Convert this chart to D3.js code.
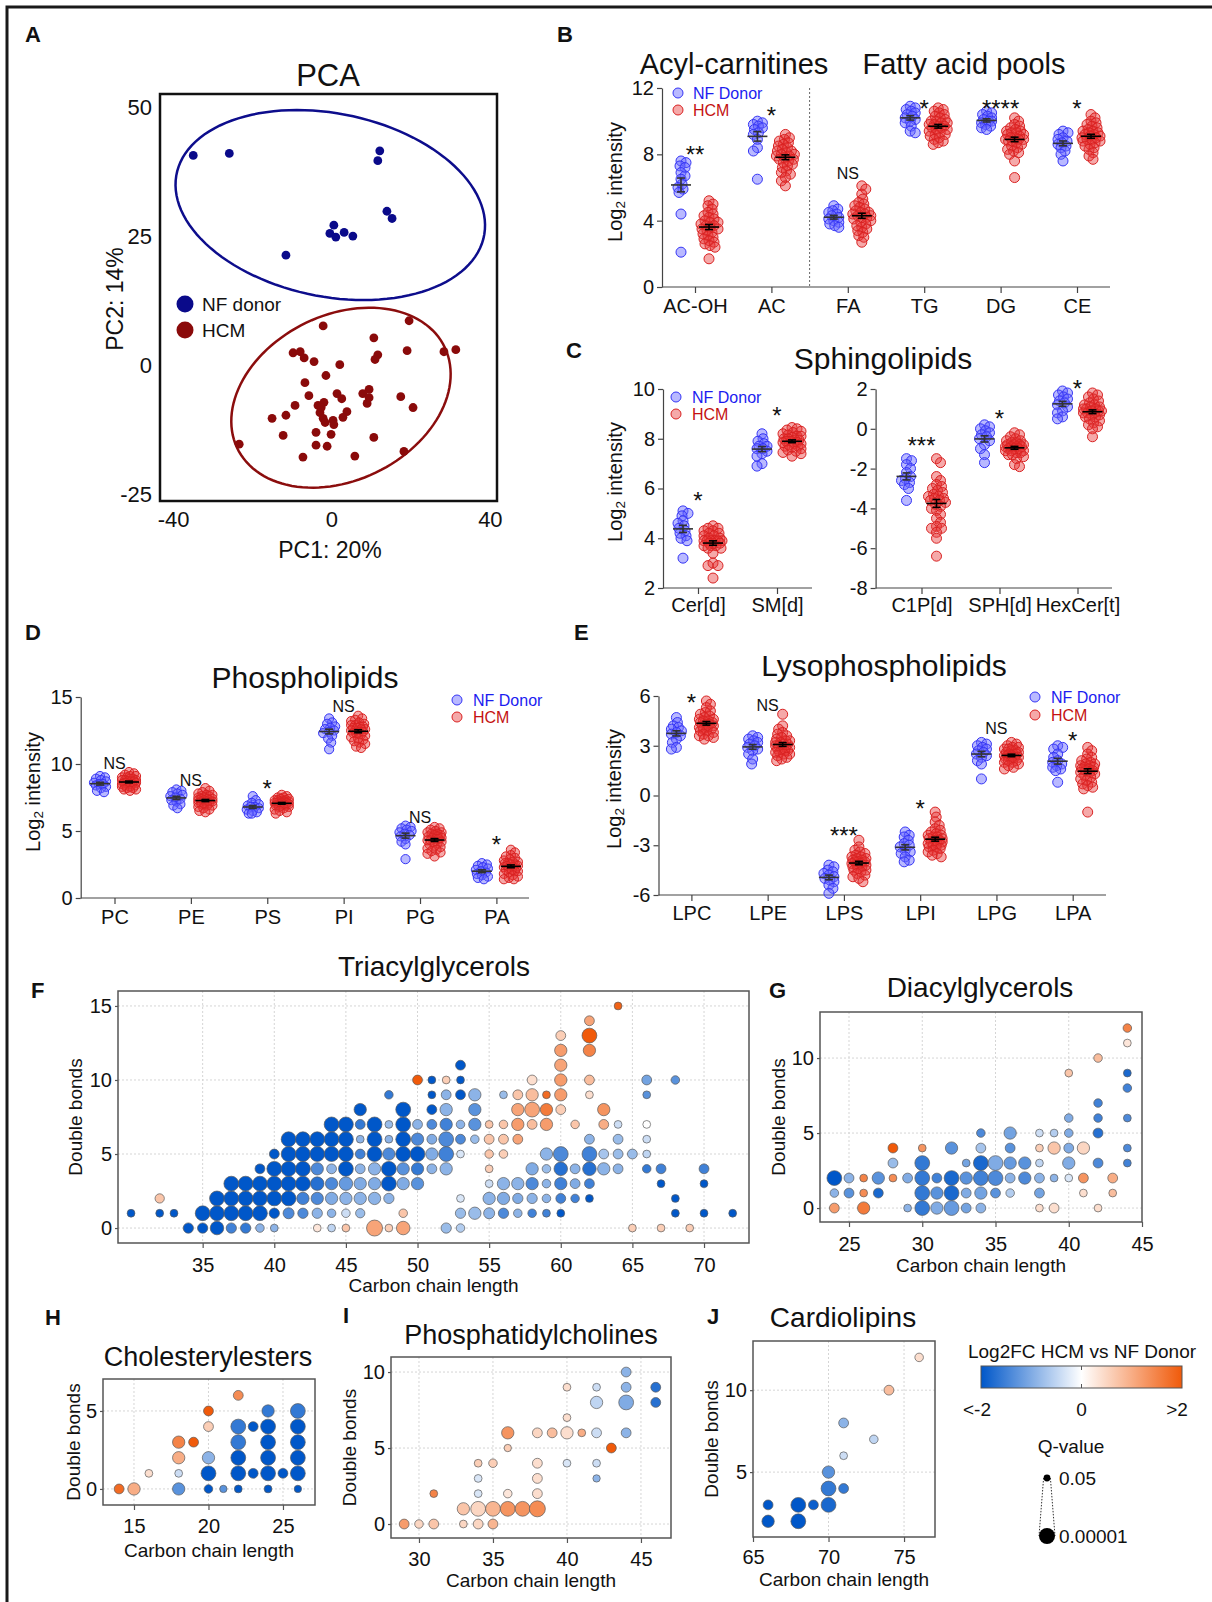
<!DOCTYPE html>
<html><head><meta charset="utf-8">
<script src="https://cdn.jsdelivr.net/npm/d3@7"></script>
<style>body{margin:0;background:#fff}</style>
</head><body>
<script>
// ================= DATA =================
// Panel A: PCA scores (PC1, PC2)
const pcaNF = [[-34.9,40.7],[-25.8,41.1],[12.2,41.6],[11.7,39.7],[14.0,29.9],[15.3,28.5],[0.6,27.2],[-0.4,25.6],[1.1,24.9],[3.2,25.8],[5.4,25.1],[-11.5,21.4]];
const pcaHCM = [[-2.1,7.7],[19.6,8.7],[10.7,5.4],[19.1,2.9],[28.4,2.7],[31.4,3.1],[-9.7,2.5],[-7.9,2.7],[-6.9,1.5],[-4.4,0.8],[2.1,0.2],[11.7,2.1],[11.0,1.2],[-1.4,-1.9],[-6.7,-3.3],[9.5,-4.6],[-5.7,-5.8],[1.4,-5.4],[2.6,-6.4],[7.9,-5.4],[9.0,-7.3],[9.5,-6.2],[17.5,-6.0],[20.6,-8.1],[-9.2,-7.7],[-3.4,-7.7],[-1.9,-7.1],[-2.9,-9.1],[3.9,-8.9],[2.9,-10.0],[-11.5,-9.6],[-15.0,-10.2],[-2.1,-10.2],[-1.6,-11.0],[0.4,-10.6],[0.6,-11.4],[-3.9,-12.9],[-0.1,-13.3],[-12.2,-13.5],[10.7,-13.9],[-23.3,-15.2],[-3.9,-15.4],[-1.1,-15.6],[-7.2,-17.7],[5.9,-17.5],[18.3,-16.6],[-2.6,-8.1]];
const nfEllipse = {c:[-0.3,31.1], u:[38.9,-5.65], v:[-3.75,-17.5]};
const hcmEllipse = {c:[2.4,-6.2], u:[26.7,8.86], v:[7.37,-15.0]};
const pcaXTicks = [-40,0,40];
const pcaYTicks = [-25,0,25,50];

// Panel B
const bCats = ["AC-OH","AC","FA","TG","DG","CE"];
const bNF = [
 [7.6,7.5,7.3,7.2,6.9,6.7,6.5,6.2,6.0,5.9,5.7,4.4,2.1],
 [10.0,9.9,9.8,9.7,9.6,9.5,9.3,9.2,8.9,8.4,8.2,6.5],
 [4.9,4.7,4.6,4.5,4.4,4.3,4.2,4.1,4.0,3.9,3.8,3.7,3.6],
 [10.9,10.8,10.7,10.6,10.5,10.4,10.3,10.2,10.1,10.0,9.9,9.7,9.4,9.3],
 [10.6,10.5,10.4,10.3,10.2,10.1,10.0,10.0,9.9,9.8,9.7,9.6,9.5],
 [9.4,9.3,9.2,9.0,8.9,8.8,8.7,8.6,8.5,8.4,8.2,8.0,7.6]];
const bHCM = [
 [5.2,5.0,4.9,4.7,4.5,4.4,4.3,4.2,4.1,4.0,3.9,3.9,3.8,3.7,3.7,3.6,3.5,3.5,3.4,3.3,3.2,3.1,3.0,2.9,2.8,2.7,2.6,2.5,2.4,1.7],
 [9.2,9.0,8.9,8.8,8.7,8.6,8.5,8.4,8.3,8.2,8.2,8.1,8.0,8.0,7.9,7.9,7.8,7.7,7.7,7.6,7.5,7.4,7.3,7.2,7.0,6.9,6.8,6.6,6.4,6.1],
 [6.1,5.9,5.6,5.3,5.1,5.0,4.9,4.8,4.7,4.6,4.5,4.5,4.4,4.4,4.3,4.3,4.2,4.2,4.1,4.0,3.9,3.8,3.7,3.6,3.5,3.4,3.3,3.1,3.0,2.7],
 [10.8,10.7,10.6,10.5,10.4,10.3,10.2,10.1,10.0,10.0,9.9,9.9,9.8,9.8,9.7,9.7,9.6,9.6,9.5,9.5,9.4,9.3,9.2,9.2,9.1,9.0,8.9,8.8,8.7,8.6],
 [10.2,10.0,9.8,9.7,9.6,9.5,9.4,9.4,9.3,9.3,9.2,9.2,9.1,9.0,9.0,8.9,8.9,8.8,8.8,8.7,8.6,8.5,8.4,8.3,8.2,8.1,8.0,8.9,7.6,6.6],
 [10.4,10.2,10.0,9.9,9.8,9.7,9.6,9.5,9.4,9.4,9.3,9.3,9.2,9.2,9.1,9.1,9.0,9.0,8.9,8.9,8.8,8.8,8.7,8.6,8.5,8.4,8.3,8.1,7.9,7.7]];
const bSig = ["**","*","NS","*","****","*"];
const bSigY = [8.3,10.7,6.9,11.1,11.1,11.1];
const bTicks = [0,4,8,12];

// Panel C (left: Cer, SM ; right: C1P, SPH, HexCer)
const cLCats = ["Cer[d]","SM[d]"];
const cLNF = [
 [5.1,5.0,4.9,4.7,4.6,4.5,4.4,4.3,4.2,4.1,4.0,3.9,3.2],
 [8.2,8.0,7.9,7.8,7.7,7.7,7.6,7.6,7.5,7.4,7.3,7.0,6.9]];
const cLHCM = [
 [4.5,4.4,4.4,4.3,4.3,4.2,4.2,4.1,4.1,4.0,4.0,3.9,3.9,3.9,3.8,3.8,3.7,3.7,3.6,3.6,3.9,3.9,3.4,3.9,3.8,3.7,3.0,2.9,2.9,2.4],
 [8.45,8.4,8.35,8.3,8.25,8.2,8.15,8.1,8.1,8.05,8.0,8.0,7.95,7.95,7.9,7.9,7.85,7.85,7.8,7.8,7.75,7.7,7.7,7.65,7.6,7.55,7.5,7.45,7.4,7.3]];
const cLSig = ["*","*"];
const cLSigY = [5.73,9.15];
const cLTicks = [2,4,6,8,10];
const cRCats = ["C1P[d]","SPH[d]","HexCer[t]"];
const cRNF = [
 [-1.5,-1.6,-1.8,-2.0,-2.2,-2.4,-2.5,-2.6,-2.7,-2.8,-3.0,-3.6],
 [0.2,0.1,0.0,-0.1,-0.2,-0.3,-0.4,-0.5,-0.6,-0.8,-1.0,-1.3,-1.7],
 [1.9,1.8,1.7,1.6,1.5,1.4,1.3,1.2,1.1,0.9,0.8,0.6,0.5]];
const cRHCM = [
 [-1.5,-1.7,-2.4,-2.6,-2.8,-2.9,-3.0,-3.1,-3.2,-3.3,-3.4,-3.4,-3.5,-3.5,-3.6,-3.6,-3.7,-3.8,-3.9,-4.0,-4.1,-4.3,-4.5,-4.7,-4.9,-5.0,-5.2,-5.5,-5.0,-6.4],
 [-0.2,-0.3,-0.4,-0.5,-0.6,-0.6,-0.7,-0.7,-0.8,-0.8,-0.8,-0.9,-0.9,-0.9,-1.0,-1.0,-1.0,-1.1,-1.1,-1.1,-1.2,-1.2,-1.3,-1.3,-1.4,-1.5,-0.9,-0.8,-1.8,-1.9],
 [1.8,1.7,1.6,1.5,1.4,1.3,1.2,1.2,1.1,1.1,1.0,1.0,1.0,0.9,0.9,0.9,0.8,0.8,0.8,0.7,0.7,0.6,0.6,0.5,0.4,0.3,0.2,0.1,0.0,-0.4]];
const cRSig = ["***","*","*"];
const cRSigY = [-0.56,0.79,2.3];
const cRTicks = [-8,-6,-4,-2,0,2];

// Panel D
const dCats = ["PC","PE","PS","PI","PG","PA"];
const dNF = [
 [9.1,9.0,8.9,8.8,8.7,8.6,8.5,8.5,8.4,8.3,8.2,8.0,7.9],
 [8.1,8.0,7.9,7.8,7.7,7.6,7.5,7.4,7.3,7.2,7.0,6.9,6.7],
 [7.6,7.3,7.1,7.0,6.9,6.8,6.8,6.7,6.6,6.5,6.4,6.3,6.3],
 [13.4,13.1,13.0,12.8,12.7,12.6,12.5,12.4,12.3,12.1,11.9,11.6,11.1],
 [5.4,5.3,5.2,5.1,5.0,4.9,4.8,4.7,4.6,4.4,4.2,4.0,2.9],
 [2.6,2.5,2.4,2.3,2.2,2.1,2.0,1.9,1.8,1.7,1.6,1.5,1.4]];
const dHCM = [
 [9.4,9.3,9.2,9.1,9.1,9.0,9.0,8.9,8.9,8.8,8.8,8.8,8.7,8.7,8.7,8.6,8.6,8.6,8.5,8.5,8.5,8.4,8.4,8.3,8.3,8.2,8.2,8.1,8.1,8.0],
 [8.2,8.0,7.9,7.8,7.7,7.7,7.6,7.6,7.5,7.5,7.4,7.4,7.4,7.3,7.3,7.3,7.2,7.2,7.2,7.1,7.1,7.0,7.0,6.9,6.9,6.8,6.7,6.6,6.5,6.4],
 [7.7,7.6,7.5,7.5,7.4,7.4,7.3,7.3,7.3,7.2,7.2,7.2,7.2,7.1,7.1,7.1,7.1,7.0,7.0,7.0,6.9,6.9,6.9,6.8,6.8,6.7,6.6,6.5,6.4,6.3],
 [13.6,13.4,13.3,13.2,13.1,13.0,12.9,12.9,12.8,12.8,12.7,12.7,12.6,12.6,12.5,12.5,12.4,12.4,12.3,12.3,12.2,12.1,12.0,11.9,11.8,11.7,11.6,11.5,11.3,11.2],
 [5.3,5.2,5.1,5.0,4.9,4.9,4.8,4.8,4.7,4.7,4.6,4.6,4.5,4.5,4.4,4.4,4.3,4.3,4.2,4.2,4.1,4.0,3.9,3.8,3.7,3.6,3.5,3.4,3.3,3.1],
 [3.6,3.4,3.2,3.1,3.0,2.9,2.8,2.7,2.7,2.6,2.6,2.5,2.5,2.4,2.4,2.3,2.3,2.2,2.2,2.1,2.1,2.0,2.0,1.9,1.8,1.7,1.6,1.5,1.4,1.4]];
const dSig = ["NS","NS","*","NS","NS","*"];
const dSigY = [10.07,8.8,8.6,14.3,6.05,4.4];
const dTicks = [0,5,10,15];

// Panel E
const eCats = ["LPC","LPE","LPS","LPI","LPG","LPA"];
const eNF = [
 [4.7,4.4,4.2,4.1,4.0,3.9,3.8,3.7,3.6,3.4,3.2,2.9,2.8],
 [3.6,3.5,3.4,3.3,3.2,3.1,3.0,2.9,2.8,2.7,2.5,2.2,1.9],
 [-4.2,-4.3,-4.5,-4.6,-4.7,-4.8,-4.9,-5.0,-5.1,-5.2,-5.4,-5.6,-5.9],
 [-2.2,-2.4,-2.5,-2.7,-2.9,-3.0,-3.1,-3.3,-3.4,-3.5,-3.7,-3.9,-4.0],
 [3.2,3.1,3.0,2.9,2.8,2.7,2.6,2.5,2.4,2.3,2.1,1.9,1.0],
 [3.0,2.9,2.8,2.5,2.3,2.1,2.0,1.9,1.8,1.7,1.6,1.5,0.8]];
const eHCM = [
 [5.7,5.5,5.3,5.1,5.0,4.9,4.8,4.7,4.6,4.6,4.5,4.5,4.4,4.4,4.3,4.3,4.2,4.2,4.1,4.1,4.0,4.0,3.9,3.9,3.8,3.7,3.6,3.6,3.5,3.4],
 [4.9,4.2,4.0,3.8,3.7,3.6,3.5,3.4,3.3,3.3,3.2,3.2,3.1,3.1,3.0,3.0,2.9,2.9,2.8,2.8,2.7,2.7,2.6,2.6,2.5,2.5,2.4,2.3,2.2,2.1],
 [-2.7,-3.1,-3.3,-3.4,-3.5,-3.6,-3.7,-3.7,-3.8,-3.8,-3.9,-3.9,-4.0,-4.0,-4.0,-4.1,-4.1,-4.2,-4.2,-4.3,-4.3,-4.4,-4.5,-4.5,-4.6,-4.7,-4.8,-4.9,-5.0,-5.2],
 [-1.0,-1.3,-1.6,-1.8,-2.0,-2.1,-2.2,-2.3,-2.4,-2.4,-2.5,-2.5,-2.6,-2.6,-2.7,-2.7,-2.8,-2.8,-2.9,-2.9,-3.0,-3.0,-3.1,-3.1,-3.2,-3.3,-3.4,-3.5,-3.6,-3.7],
 [3.2,3.1,3.0,2.9,2.9,2.8,2.8,2.7,2.7,2.6,2.6,2.5,2.5,2.5,2.4,2.4,2.4,2.3,2.3,2.3,2.2,2.2,2.1,2.1,2.0,2.0,1.9,1.8,1.7,1.6],
 [2.9,2.7,2.5,2.3,2.2,2.1,2.0,1.9,1.9,1.8,1.8,1.7,1.7,1.6,1.6,1.5,1.5,1.4,1.4,1.3,1.2,1.1,1.0,0.9,0.8,0.7,0.6,0.5,0.4,-1.0]];
const eSig = ["*","NS","***","*","NS","*"];
const eSigY = [5.95,5.46,-2.1,-0.45,4.07,3.65];
const eTicks = [-6,-3,0,3,6];

// Bubble panels: [carbon chain length, double bonds, log2FC, q-value]
const tgData = [
[34,0,-2.2,.002],[35,0,-2.2,.002],[36,0,-2.2,.0001],[37,0,-1.5,.002],[38,0,-1.6,.002],[39,0,-0.9,.01],[40,0,-0.9,.02],[43,0,0.3,.02],[44,0,-0.5,.02],[45,0,0.7,.02],[47,0,1.1,.00001],[48,0,0.6,.02],[49,0,1.1,.0001],[52,0,-0.8,.002],[53,0,-0.6,.01],[65,0,0.6,.02],[67,0,0.6,.02],[69,0,0.6,.02],
[30,1,-2.2,.02],[32,1,-2.2,.02],[33,1,-2.2,.02],[35,1,-2.2,.00003],[36,1,-2.2,.00003],[37,1,-2.2,.00003],[38,1,-2.2,.00003],[39,1,-2.2,.00003],[40,1,-2.0,.002],[41,1,-1.4,.001],[42,1,-1.4,.002],[43,1,-0.9,.002],[44,1,-0.9,.01],[45,1,-0.4,.01],[46,1,-0.8,.005],[49,1,0.7,.01],[53,1,-0.8,.002],[54,1,-0.8,.0003],[55,1,-0.9,.001],[56,1,-1.4,.002],[57,1,-0.9,.01],[58,1,-1.5,.01],[59,1,-1.5,.02],[60,1,-2.2,.02],[68,1,-2.2,.02],[70,1,-2.2,.02],[72,1,-2.2,.02],
[32,2,0.7,.005],[36,2,-2.2,.00003],[37,2,-2.2,.00003],[38,2,-2.2,.00003],[39,2,-2.2,.00003],[40,2,-2.2,.00003],[41,2,-2.1,.00003],[42,2,-1.5,.0003],[43,2,-1.4,.0003],[44,2,-1.0,.0003],[45,2,-0.9,.0003],[46,2,-0.9,.0003],[47,2,-0.9,.0003],[48,2,-0.9,.002],[53,2,-0.3,.02],[55,2,-0.9,.0003],[56,2,-1.0,.0003],[57,2,-1.0,.002],[58,2,-0.9,.002],[59,2,-0.9,.01],[60,2,-1.5,.003],[61,2,-1.5,.01],[62,2,-2.2,.02],[68,2,-2.2,.02],
[37,3,-2.2,.00003],[38,3,-2.2,.00003],[39,3,-2.2,.00003],[40,3,-2.2,.00003],[41,3,-2.1,.00003],[42,3,-2.0,.00003],[43,3,-1.7,.0001],[44,3,-1.4,.0003],[45,3,-1.2,.0001],[46,3,-1.0,.0003],[47,3,-1.0,.0003],[48,3,-2.0,.00003],[49,3,-1.0,.0003],[50,3,-1.3,.0003],[55,3,-0.4,.02],[56,3,-0.9,.0003],[57,3,-0.9,.0003],[58,3,-1.4,.0003],[59,3,-0.9,.01],[60,3,-1.5,.0003],[61,3,-1.0,.003],[62,3,-1.5,.003],[67,3,-2.2,.02],[70,3,-2.2,.02],
[39,4,-2.2,.003],[40,4,-2.2,.00003],[41,4,-2.2,.00003],[42,4,-2.2,.00003],[43,4,-1.4,.0003],[44,4,-0.9,.003],[45,4,-2.2,.00003],[46,4,-0.9,.003],[47,4,-0.9,.0003],[48,4,-2.1,.00003],[49,4,-1.3,.0003],[50,4,-1.6,.0003],[51,4,-0.9,.003],[52,4,-0.9,.0003],[55,4,0.6,.02],[58,4,-1.0,.0003],[59,4,-0.8,.01],[60,4,-1.7,.0001],[61,4,-0.9,.003],[62,4,-1.7,.0001],[63,4,-0.9,.0003],[64,4,-0.9,.003],[66,4,-1.6,.01],[67,4,-1.5,.003],[70,4,-1.5,.003],
[40,5,-2.2,.003],[41,5,-2.2,.00003],[42,5,-2.2,.00003],[43,5,-2.2,.00003],[44,5,-2.2,.00003],[45,5,-2.2,.00003],[46,5,-1.5,.003],[47,5,-2.2,.00003],[48,5,-1.4,.0003],[49,5,-2.2,.00003],[50,5,-2.2,.00003],[51,5,-1.0,.0003],[52,5,-1.5,.00003],[53,5,-0.3,.02],[55,5,0.7,.01],[56,5,0.6,.01],[59,5,-0.9,.0003],[60,5,-1.4,.00003],[62,5,-1.5,.00003],[63,5,-0.7,.003],[64,5,-0.8,.003],[65,5,-0.8,.003],[66,5,-0.5,.02],
[41,6,-2.2,.00003],[42,6,-2.2,.00003],[43,6,-2.2,.00003],[44,6,-2.2,.00003],[45,6,-2.2,.00003],[46,6,-0.9,.02],[47,6,-2.2,.00003],[48,6,-0.9,.02],[49,6,-2.2,.00003],[50,6,-1.4,.0003],[51,6,-1.0,.003],[52,6,-1.4,.00003],[53,6,-1.4,.003],[54,6,-0.8,.01],[55,6,0.7,.003],[56,6,0.7,.003],[57,6,1.1,.003],[62,6,-0.9,.003],[64,6,-0.8,.003],[66,6,-0.4,.02],
[44,7,-2.2,.00003],[45,7,-2.2,.00003],[46,7,-1.6,.003],[47,7,-2.2,.00003],[48,7,-0.8,.02],[49,7,-2.2,.00003],[50,7,-0.9,.003],[51,7,-1.4,.003],[52,7,-1.5,.0003],[53,7,-0.9,.01],[54,7,-1.3,.0003],[55,7,0.7,.02],[56,7,0.7,.01],[57,7,1.2,.0003],[58,7,0.8,.003],[59,7,1.2,.0003],[61,7,0.7,.01],[63,7,1.0,.003],[64,7,-0.4,.02],[66,7,0.0,.02],
[46,8,-2.2,.0003],[49,8,-2.2,.00003],[51,8,-2.2,.003],[52,8,-0.9,.0003],[54,8,-1.3,.0003],[57,8,1.1,.0003],[58,8,1.1,.00003],[59,8,1.6,.0003],[60,8,0.6,.003],[63,8,1.3,.0003],
[48,9,-1.6,.01],[51,9,-2.2,.02],[52,9,-0.9,.003],[53,9,-2.0,.003],[54,9,-0.9,.0003],[56,9,-0.8,.02],[57,9,0.7,.003],[58,9,0.8,.0003],[59,9,1.8,.02],[60,9,1.2,.0003],[62,9,0.4,.02],[66,9,-1.3,.02],
[50,10,2.0,.003],[51,10,-2.2,.02],[52,10,0.6,.02],[53,10,-2.2,.02],[58,10,0.4,.003],[60,10,1.2,.0003],[62,10,0.8,.003],[66,10,-1.1,.003],[68,10,-1.3,.01],
[53,11,-2.2,.003],[60,11,1.1,.0003],[60,12,1.2,.0003],[62,12,1.5,.0003],[60,13,0.6,.003],[62,13,2.0,.00003],[62,14,1.1,.003],[64,15,1.9,.02]];

const dgData = [
[24,0,1.2,.003],[26,0,1.6,.0003],[29,0,-0.9,.02],[30,0,-1.6,.00003],[31,0,-1.0,.0003],[32,0,-1.2,.00003],[33,0,-1.1,.003],[34,0,-0.9,.003],[38,0,0.4,.02],[39,0,0.4,.003],[42,0,0.4,.02],
[24,1,-0.9,.01],[25,1,-1.3,.003],[26,1,1.4,.02],[27,1,-1.8,.003],[30,1,-1.6,.00003],[31,1,-1.3,.0003],[32,1,-1.8,.00003],[33,1,-1.0,.003],[34,1,-1.1,.0003],[35,1,-1.3,.003],[36,1,-0.6,.01],[38,1,-1.1,.003],[41,1,0.4,.02],[43,1,0.8,.02],
[24,2,-2.3,.00003],[25,2,-0.9,.003],[26,2,1.5,.02],[27,2,-1.3,.0003],[28,2,1.4,.02],[29,2,-1.0,.003],[30,2,-1.6,.00003],[31,2,-1.5,.003],[32,2,-1.8,.00003],[33,2,-1.3,.0003],[34,2,-1.5,.00003],[35,2,-1.4,.00003],[36,2,-0.9,.003],[37,2,-1.4,.0003],[38,2,-0.9,.003],[39,2,-0.9,.02],[40,2,-0.3,.02],[41,2,1.3,.003],[43,2,1.0,.003],
[28,3,-0.8,.003],[30,3,-1.6,.00003],[33,3,-1.1,.02],[34,3,-1.8,.00003],[35,3,-1.0,.00003],[36,3,-1.2,.0003],[37,3,-1.3,.0003],[38,3,-0.5,.02],[40,3,-1.0,.0003],[42,3,-1.4,.003],[44,3,-1.5,.02],
[28,4,2.1,.003],[30,4,1.3,.02],[32,4,-1.3,.0003],[34,4,-0.7,.003],[36,4,-1.3,.003],[38,4,0.6,.02],[39,4,0.7,.0003],[40,4,-1.0,.003],[41,4,0.5,.0003],[44,4,-1.4,.02],
[34,5,-1.4,.01],[36,5,-1.1,.0003],[38,5,-0.4,.02],[39,5,-0.6,.02],[40,5,-1.0,.01],[42,5,-1.7,.003],
[40,6,-1.0,.01],[42,6,-1.5,.01],[44,6,-1.4,.02],[42,7,-1.5,.01],[44,8,-1.5,.01],[40,9,0.7,.02],[44,9,-1.8,.02],[42,10,0.8,.01],[44,11,0.3,.02],[44,12,1.5,.01]];

const ceData = [
[14,0,1.8,.003],[15,0,1.0,.0003],[18,0,-1.3,.0003],[20,0,-2.2,.01],[21,0,-1.3,.03],[22,0,-2.2,.02],[24,0,-2.2,.02],[26,0,-2.2,.03],
[16,1,0.4,.02],[18,1,-0.4,.02],[20,1,-2.2,.00003],[22,1,-2.2,.00003],[23,1,-2.2,.003],[24,1,-2.2,.00003],[25,1,-2.2,.003],[26,1,-2.2,.00003],
[18,2,1.0,.0003],[20,2,-0.9,.0003],[22,2,-2.2,.00003],[24,2,-2.2,.00003],[26,2,-2.2,.00003],
[18,3,1.5,.0003],[19,3,2.1,.003],[22,3,-1.6,.00003],[24,3,-2.2,.00003],[26,3,-2.2,.00003],
[20,4,0.6,.003],[22,4,-1.6,.00003],[23,4,-2.2,.003],[24,4,-2.2,.00003],[26,4,-2.2,.00003],
[20,5,2.1,.003],[24,5,-1.6,.0003],[26,5,-1.6,.00003],[22,6,1.4,.003]];

const pcData = [
[29,0,1.2,.003],[30,0,0.5,.01],[31,0,0.7,.003],[33,0,0.5,.02],[34,0,0.5,.003],[35,0,0.9,.003],
[33,1,0.7,.0003],[34,1,0.5,.00003],[35,1,0.9,.00003],[36,1,1.3,.00003],[37,1,1.3,.00003],[38,1,1.4,.00001],
[31,2,1.5,.02],[34,2,-0.3,.02],[36,2,0.3,.01],[38,2,0.4,.003],
[34,3,-0.3,.02],[38,3,0.4,.003],[42,3,-0.9,.03],
[34,4,0.6,.02],[35,4,0.6,.01],[38,4,0.4,.003],[40,4,-0.3,.02],[42,4,-0.4,.02],
[36,5,0.6,.03],[43,5,2.0,.003],
[36,6,1.3,.0003],[38,6,0.5,.003],[39,6,0.8,.003],[40,6,0.4,.0003],[41,6,1.0,.02],[42,6,-0.4,.003],[44,6,-0.9,.003],
[40,7,0.4,.02],[42,8,-0.5,.0003],[44,8,-1.0,.00003],[46,8,-1.7,.003],
[40,9,0.4,.02],[42,9,-0.4,.02],[44,9,-0.9,.003],[46,9,-1.7,.003],[44,10,-0.9,.003]];

const clData = [
[66,2,-2.2,.0003],[66,3,-2.2,.003],[68,2,-2.2,.00003],[68,3,-2.2,.00003],[69,3,-1.9,.003],[70,3,-1.8,.00003],[70,4,-1.6,.00003],[70,5,-1.3,.0003],[71,4,-1.6,.003],[71,6,-0.4,.02],[71,8,-0.9,.003],[73,7,-0.5,.01],[74,10,0.8,.003],[76,12,0.4,.01]];

const fcLegendTicks = ["<-2","0",">2"];
const fcLegendVals = [-2,0,2];
const qLegendVals = [0.05,0.00001];

// ================= DRAWING =================
const FONT = '"Liberation Sans", Arial, Helvetica, sans-serif';
const fmt = d => String(d);
const svg = d3.select("body").append("svg").attr("width",1212).attr("height",1602)
  .attr("font-family",FONT);
svg.append("rect").attr("width",1212).attr("height",1602).attr("fill","#fff");
svg.append("path").attr("d","M7,1602V7H1212").attr("fill","none").attr("stroke","#1a1a1a").attr("stroke-width",3);

const letters = [["A",25,42],["B",557,42],["C",566,358],["D",25,640],["E",574,640],["F",31,998],["G",769,998],["H",45,1325],["I",343,1323],["J",707,1324]];
svg.selectAll("text.letter").data(letters).join("text").attr("class","letter")
  .attr("x",d=>d[1]).attr("y",d=>d[2]).attr("font-size",22).attr("font-weight","bold").attr("fill","#111").text(d=>d[0]);

function txt(g,s,x,y,size,opts={}){
  const t=g.append("text").attr("x",x).attr("y",y).attr("font-size",size).attr("fill",opts.fill||"#111")
   .attr("text-anchor",opts.anchor||"middle").text(s);
  if(opts.baseline) t.attr("dominant-baseline",opts.baseline);
  return t;
}
function styleAxis(a,size){
  a.attr("font-family",FONT).attr("font-size",size);
  a.selectAll("text").attr("fill","#111");
  a.selectAll("line").attr("stroke","#444").attr("stroke-width",1.2);
  a.selectAll(".domain").attr("stroke","#444").attr("stroke-width",1.2);
}

// ---- Panel A ----
(function(){
  const g=svg.append("g");
  const x=d3.scaleLinear().domain([-43.3,41.8]).range([160,497]);
  const y=d3.scaleLinear().domain([-26.2,52.6]).range([501,94]);
  const ell=(e)=>{const pts=d3.range(0,361,3).map(a=>{const t=a*Math.PI/180;
      return [x(e.c[0]+Math.cos(t)*e.u[0]+Math.sin(t)*e.v[0]), y(e.c[1]+Math.cos(t)*e.u[1]+Math.sin(t)*e.v[1])];});
    return d3.line()(pts)+"Z";};
  g.append("path").attr("d",ell(nfEllipse)).attr("fill","none").attr("stroke","#0d0d8c").attr("stroke-width",2.5);
  g.append("path").attr("d",ell(hcmEllipse)).attr("fill","none").attr("stroke","#8b0d0d").attr("stroke-width",2.5);
  g.selectAll("circle.nf").data(pcaNF).join("circle").attr("class","nf").attr("cx",d=>x(d[0])).attr("cy",d=>y(d[1])).attr("r",4.4).attr("fill","#0a0a8a");
  g.selectAll("circle.hcm").data(pcaHCM).join("circle").attr("class","hcm").attr("cx",d=>x(d[0])).attr("cy",d=>y(d[1])).attr("r",4.4).attr("fill","#8a0a0a");
  g.append("rect").attr("x",160).attr("y",94).attr("width",337).attr("height",407).attr("fill","none").attr("stroke","#111").attr("stroke-width",2.5);
  const ax=g.append("g").attr("transform","translate(0,501)").call(d3.axisBottom(x).tickValues(pcaXTicks).tickFormat(fmt).tickSize(0).tickPadding(10));
  ax.select(".domain").remove(); styleAxis(ax,22);
  const ay=g.append("g").attr("transform","translate(160,0)").call(d3.axisLeft(y).tickValues(pcaYTicks).tickFormat(fmt).tickSize(0).tickPadding(8));
  ay.select(".domain").remove(); styleAxis(ay,22);
  txt(g,"PCA",328,86,31);
  txt(g,"PC1: 20%",330,558,23);
  txt(g,"PC2: 14%",0,0,23).attr("transform","translate(115,299) rotate(-90)").attr("dominant-baseline","central");
  g.append("circle").attr("cx",185).attr("cy",304).attr("r",8.5).attr("fill","#0a0a8a");
  g.append("circle").attr("cx",185).attr("cy",330).attr("r",8.5).attr("fill","#8a0a0a");
  txt(g,"NF donor",202,304,19,{anchor:"start",baseline:"central"});
  txt(g,"HCM",202,330,19,{anchor:"start",baseline:"central"});
})();

// ---- strip plots ----
const NF = {fill:"rgba(100,100,255,0.45)", stroke:"#3535f5", mean:"#333"};
const HC = {fill:"rgba(232,50,50,0.42)", stroke:"#d92222", mean:"#000"};
function swarm(vals,y,cx,r,w){
  const minD=r*1.0, pts=[];
  vals.slice().sort((a,b)=>b-a).forEach((v,i)=>{
    const py=y(v); let best=0,bestD=-1;
    for(let k=0;k<=2*w;k++){
      const off=k===0?0:((k%2===1)?1:-1)*Math.ceil(k/2)*(i%2?1:-1);
      let md=Infinity;
      for(const p of pts){const d=Math.hypot(p.x-(cx+off),p.y-py); if(d<md) md=d;}
      if(md>=minD){best=off;bestD=md;break;}
      if(md>bestD){bestD=md;best=off;}
    }
    pts.push({x:cx+best,y:py,v});
  });
  return pts;
}
function stripPanel(o){
  const g=svg.append("g");
  const x=d3.scalePoint().domain(o.cats).range(o.catRange);
  const y=d3.scaleLinear().domain(o.yDom).range(o.yRange);
  const y0=o.yRange[0];
  const ay=g.append("g").attr("transform",`translate(${o.axisL},0)`).call(d3.axisLeft(y).tickValues(o.ticks).tickFormat(fmt).tickSize(5).tickPadding(3).tickSizeOuter(0));
  styleAxis(ay,20);
  g.append("line").attr("x1",o.axisL).attr("x2",o.axisR).attr("y1",y0).attr("y2",y0).attr("stroke","#444").attr("stroke-width",1.2);
  const ax=g.append("g").attr("transform",`translate(0,${y0})`).call(d3.axisBottom(x).tickSize(6).tickPadding(o.xPad));
  ax.select(".domain").remove(); styleAxis(ax,20);
  if(o.sep){const sx=(x(o.cats[1])+x(o.cats[2]))/2;
    g.append("line").attr("x1",sx).attr("x2",sx).attr("y1",y(o.yDom[1])).attr("y2",y0).attr("stroke","#666").attr("stroke-dasharray","2,2").attr("stroke-width",1);}
  o.cats.forEach((c,i)=>{
    [[o.nf[i],-o.off,NF,o.wNF],[o.hcm[i],o.off,HC,o.wHC]].forEach(([vals,dx,st,w])=>{
      const cx=x(c)+dx;
      const pts=swarm(vals,y,cx,o.r,w);
      g.append("g").selectAll("circle").data(pts).join("circle").attr("cx",d=>d.x).attr("cy",d=>d.y).attr("r",o.r)
        .attr("fill",st.fill).attr("stroke",st.stroke).attr("stroke-width",1);
      const m=d3.mean(vals), se=d3.deviation(vals)/Math.sqrt(vals.length);
      const mg=g.append("g").attr("stroke",st.mean).attr("stroke-width",1.6);
      mg.append("line").attr("x1",cx-10).attr("x2",cx+10).attr("y1",y(m)).attr("y2",y(m));
      mg.append("line").attr("x1",cx).attr("x2",cx).attr("y1",y(m-se)).attr("y2",y(m+se));
      mg.append("line").attr("x1",cx-4).attr("x2",cx+4).attr("y1",y(m-se)).attr("y2",y(m-se));
      mg.append("line").attr("x1",cx-4).attr("x2",cx+4).attr("y1",y(m+se)).attr("y2",y(m+se));
    });
    const s=o.sig[i], star=s!=="NS";
    txt(g,s,x(c),y(o.sigY[i])+(star?14:6),star?24:16);
  });
  return {g,x,y};
}
function legend(g,cx,y1,y2,tx,r,size){
  g.append("circle").attr("cx",cx).attr("cy",y1).attr("r",r).attr("fill",NF.fill).attr("stroke",NF.stroke);
  g.append("circle").attr("cx",cx).attr("cy",y2).attr("r",r).attr("fill",HC.fill).attr("stroke",HC.stroke);
  txt(g,"NF Donor",tx,y1,size,{anchor:"start",baseline:"central",fill:"#1c1cf0"});
  txt(g,"HCM",tx,y2,size,{anchor:"start",baseline:"central",fill:"#c41212"});
}
function yTitle(g,x,y,size){
  const t=g.append("text").attr("transform",`translate(${x},${y}) rotate(-90)`).attr("text-anchor","middle")
    .attr("dominant-baseline","central").attr("font-size",size).attr("fill","#111");
  t.append("tspan").text("Log");
  t.append("tspan").text("2").attr("font-size",size*0.68).attr("dy",5);
  t.append("tspan").text(" intensity").attr("dy",-5);
}

// B
(function(){
  const p=stripPanel({cats:bCats,nf:bNF,hcm:bHCM,sig:bSig,sigY:bSigY,catRange:[695,1077],yDom:[0,12],yRange:[287,88],
    axisL:662,axisR:1110,ticks:bTicks,off:14,r:5,wNF:5,wHC:9,xPad:6,sep:true});
  txt(p.g,"Acyl-carnitines",734,74,29); txt(p.g,"Fatty acid pools",964,74,29);
  legend(p.g,678,93,110,693,5,16); yTitle(p.g,615,182,20);
})();
// C
(function(){
  const p=stripPanel({cats:cLCats,nf:cLNF,hcm:cLHCM,sig:cLSig,sigY:cLSigY,catRange:[698,777],yDom:[2,10],yRange:[588,389],
    axisL:663,axisR:812,ticks:cLTicks,off:15,r:5,wNF:5,wHC:9,xPad:4});
  stripPanel({cats:cRCats,nf:cRNF,hcm:cRHCM,sig:cRSig,sigY:cRSigY,catRange:[921.5,1077.5],yDom:[-8,2],yRange:[588,389],
    axisL:875.6,axisR:1112,ticks:cRTicks,off:15,r:5,wNF:5,wHC:9,xPad:4});
  txt(p.g,"Sphingolipids",883,369,30);
  legend(p.g,676,397,414,692,5,16); yTitle(p.g,615,482,20);
})();
// D
(function(){
  const p=stripPanel({cats:dCats,nf:dNF,hcm:dHCM,sig:dSig,sigY:dSigY,catRange:[114.5,496.4],yDom:[0,15],yRange:[898,697],
    axisL:80.7,axisR:529,ticks:dTicks,off:14.5,r:4.6,wNF:6,wHC:7,xPad:6});
  txt(p.g,"Phospholipids",305,688,30);
  legend(p.g,457,700,717,473,5,16); yTitle(p.g,33,792,20);
})();
// E
(function(){
  const p=stripPanel({cats:eCats,nf:eNF,hcm:eHCM,sig:eSig,sigY:eSigY,catRange:[691.4,1072.7],yDom:[-6,6],yRange:[895,696],
    axisL:658.5,axisR:1106,ticks:eTicks,off:15,r:5,wNF:5,wHC:7,xPad:5});
  txt(p.g,"Lysophospholipids",884,676,30);
  legend(p.g,1035,697,715,1051,5,16); yTitle(p.g,614,789,20);
})();

// ---- bubble plots ----
const fcColor=d3.scaleLinear().domain([-2,0,2]).range(["#0057c9","#ffffff","#f05a0a"]).clamp(true);
const rScale=d3.scaleLinear().domain([-Math.log10(0.05),5]).range([3.4,8.0]).clamp(true);
function bubblePanel(o){
  const g=svg.append("g");
  const x=d3.scaleLinear().domain(o.xDom).range(o.xRange);
  const y=d3.scaleLinear().domain(o.yDom).range(o.yRange);
  const [x0,x1]=o.xRange, [y0,y1]=o.yRange;
  g.append("rect").attr("x",x0).attr("y",y1).attr("width",x1-x0).attr("height",y0-y1).attr("fill","#fff");
  g.selectAll("line.gx").data(o.xTicks.filter(t=>x(t)>x0+1&&x(t)<x1-1)).join("line").attr("class","gx")
    .attr("x1",d=>x(d)).attr("x2",d=>x(d)).attr("y1",y1).attr("y2",y0).attr("stroke","#d5d5d5").attr("stroke-dasharray","2,2");
  g.selectAll("line.gy").data(o.yTicks.filter(t=>y(t)<y0-1&&y(t)>y1+1)).join("line").attr("class","gy")
    .attr("y1",d=>y(d)).attr("y2",d=>y(d)).attr("x1",x0).attr("x2",x1).attr("stroke","#d5d5d5").attr("stroke-dasharray","2,2");
  g.selectAll("circle").data(o.data).join("circle").attr("cx",d=>x(d[0])).attr("cy",d=>y(d[1]))
    .attr("r",d=>rScale(-Math.log10(d[3]))).attr("fill",d=>fcColor(d[2])).attr("stroke","#5a5a5a").attr("stroke-width",0.7);
  g.append("rect").attr("x",x0).attr("y",y1).attr("width",x1-x0).attr("height",y0-y1).attr("fill","none").attr("stroke","#555").attr("stroke-width",1.5);
  const ax=g.append("g").attr("transform",`translate(0,${y0})`).call(d3.axisBottom(x).tickValues(o.xTicks).tickFormat(fmt).tickSize(5).tickPadding(o.xPad));
  ax.select(".domain").remove(); styleAxis(ax,20); ax.selectAll("line").attr("stroke","#555");
  const ay=g.append("g").attr("transform",`translate(${x0},0)`).call(d3.axisLeft(y).tickValues(o.yTicks).tickFormat(fmt).tickSize(3).tickPadding(3));
  ay.select(".domain").remove(); styleAxis(ay,20); ay.selectAll("line").attr("stroke","#555");
  txt(g,o.title,o.titleX,o.titleY,o.titleSize||28);
  txt(g,"Carbon chain length",(x0+x1)/2,o.xtY,19);
  txt(g,"Double bonds",0,0,19).attr("transform",`translate(${o.ytX},${(y0+y1)/2}) rotate(-90)`).attr("dominant-baseline","central");
}
bubblePanel({data:tgData,xDom:[29.09,73.14],xRange:[118,749],yDom:[-1.01,16.01],yRange:[1243,991],
  xTicks:[35,40,45,50,55,60,65,70],yTicks:[0,5,10,15],xPad:10,title:"Triacylglycerols",titleX:434,titleY:976,xtY:1292,ytX:75});
bubblePanel({data:dgData,xDom:[23.02,45],xRange:[820,1142],yDom:[-0.93,13.07],yRange:[1222,1012],
  xTicks:[25,30,35,40,45],yTicks:[0,5,10],xPad:10,title:"Diacylglycerols",titleX:980,titleY:997,xtY:1272,ytX:778});
bubblePanel({data:ceData,xDom:[12.92,27.15],xRange:[103,315],yDom:[-1.03,7.05],yRange:[1505,1379],
  xTicks:[15,20,25],yTicks:[0,5],xPad:9,title:"Cholesterylesters",titleX:208,titleY:1366,titleSize:27,xtY:1557,ytX:73});
bubblePanel({data:pcData,xDom:[28.11,47.03],xRange:[391,671],yDom:[-0.92,10.99],yRange:[1538,1357],
  xTicks:[30,35,40,45],yTicks:[0,5,10],xPad:9,title:"Phosphatidylcholines",titleX:531,titleY:1344,titleSize:27,xtY:1587,ytX:349});
bubblePanel({data:clData,xDom:[65,77.05],xRange:[753,935],yDom:[1.04,13.0],yRange:[1537,1341],
  xTicks:[65,70,75],yTicks:[5,10],xPad:8,title:"Cardiolipins",titleX:843,titleY:1327,xtY:1586,ytX:711});

// ---- color / size legend ----
(function(){
  const g=svg.append("g");
  const lx=d3.scaleLinear().domain([-2,2]).range([981,1182]);
  const grad=svg.append("defs").append("linearGradient").attr("id","fcgrad");
  d3.range(-2,2.01,0.5).forEach(v=>grad.append("stop").attr("offset",(v+2)/4).attr("stop-color",fcColor(v)));
  txt(g,"Log2FC HCM vs NF Donor",1082,1358,19);
  g.append("rect").attr("x",lx(-2)).attr("y",1366).attr("width",lx(2)-lx(-2)).attr("height",22).attr("fill","url(#fcgrad)").attr("stroke","#555").attr("stroke-width",1);
  g.append("line").attr("x1",lx(0)).attr("x2",lx(0)).attr("y1",1366).attr("y2",1370).attr("stroke","#555");
  g.append("line").attr("x1",lx(0)).attr("x2",lx(0)).attr("y1",1384).attr("y2",1388).attr("stroke","#555");
  fcLegendVals.forEach((v,i)=>txt(g,fcLegendTicks[i],lx(v)+(i===0?-4:i===2?-5:0),1416,19));
  txt(g,"Q-value",1071,1453,19);
  const qy=d3.scaleLinear().domain([-Math.log10(0.05),5]).range([1478,1536]);
  const qs=qLegendVals.map(q=>({q,y:qy(-Math.log10(q)),r:rScale(-Math.log10(q))}));
  g.append("line").attr("x1",1047-qs[0].r).attr("x2",1047-qs[1].r).attr("y1",qs[0].y).attr("y2",qs[1].y).attr("stroke","#333").attr("stroke-dasharray","1.5,1.5");
  g.append("line").attr("x1",1047+qs[0].r).attr("x2",1047+qs[1].r).attr("y1",qs[0].y).attr("y2",qs[1].y).attr("stroke","#333").attr("stroke-dasharray","1.5,1.5");
  qs.forEach(d=>{
    g.append("circle").attr("cx",1047).attr("cy",d.y).attr("r",d.r).attr("fill","#000");
    txt(g,d.q===0.05?"0.05":"0.00001",1059,d.y,19,{anchor:"start",baseline:"central"});
  });
})();
</script>
</body></html>
